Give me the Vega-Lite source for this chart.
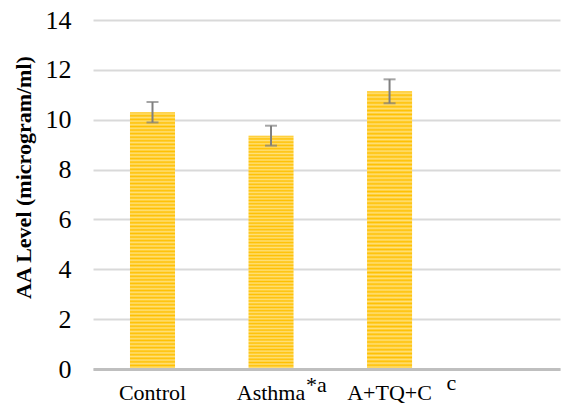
{
"$schema": "https://vega.github.io/schema/vega-lite/v6.json",
"width": 467,
"height": 349,
"autosize": {"type": "none"},
"padding": {"left": 93, "top": 20, "right": 1, "bottom": 35},
"config": {"view": {"stroke": null}, "font": "Liberation Serif",
"axisY": {"labelFont": "Liberation Serif", "labelFontSize": 26, "labelColor": "#000000"}},
"data": {"values": [
{"group": "Control", "mean": 10.3, "lo": 9.89, "hi": 10.71},
{"group": "Asthma", "mean": 9.36, "lo": 8.96, "hi": 9.76},
{"group": "A+TQ+C", "mean": 11.14, "lo": 10.66, "hi": 11.62}
]},
"encoding": {
"x": {"field": "group", "type": "nominal", "sort": null,
"scale": {"domain": ["Control", "Asthma", "A+TQ+C"], "paddingInner": 0.62, "paddingOuter": 0.78, "align": 0.2},
"axis": {"title": null, "labelAngle": 0, "ticks": false, "labelPadding": 13, "labelFont": "Liberation Serif", "labelFontSize": 22, "labelColor": "#000000", "domainColor": "#bfbfbf", "domainWidth": 3, "zindex": 1}}
},
"layer": [
{"mark": {"type": "bar", "color": {"gradient": "linear", "x1": 0, "y1": 0, "x2": 0, "y2": 1, "stops": [
{"offset":0,"color":"#FFC000"},{"offset":0.0069,"color":"#FFE07A"},{"offset":0.0139,"color":"#FFC000"},{"offset":0.0208,"color":"#FFE07A"},{"offset":0.0278,"color":"#FFC000"},{"offset":0.0347,"color":"#FFE07A"},{"offset":0.0417,"color":"#FFC000"},{"offset":0.0486,"color":"#FFE07A"},{"offset":0.0556,"color":"#FFC000"},{"offset":0.0625,"color":"#FFE07A"},{"offset":0.0694,"color":"#FFC000"},{"offset":0.0764,"color":"#FFE07A"},{"offset":0.0833,"color":"#FFC000"},{"offset":0.0903,"color":"#FFE07A"},{"offset":0.0972,"color":"#FFC000"},{"offset":0.1042,"color":"#FFE07A"},{"offset":0.1111,"color":"#FFC000"},{"offset":0.1181,"color":"#FFE07A"},{"offset":0.125,"color":"#FFC000"},{"offset":0.1319,"color":"#FFE07A"},{"offset":0.1389,"color":"#FFC000"},{"offset":0.1458,"color":"#FFE07A"},{"offset":0.1528,"color":"#FFC000"},{"offset":0.1597,"color":"#FFE07A"},{"offset":0.1667,"color":"#FFC000"},{"offset":0.1736,"color":"#FFE07A"},{"offset":0.1806,"color":"#FFC000"},{"offset":0.1875,"color":"#FFE07A"},{"offset":0.1944,"color":"#FFC000"},{"offset":0.2014,"color":"#FFE07A"},{"offset":0.2083,"color":"#FFC000"},{"offset":0.2153,"color":"#FFE07A"},{"offset":0.2222,"color":"#FFC000"},{"offset":0.2292,"color":"#FFE07A"},{"offset":0.2361,"color":"#FFC000"},{"offset":0.2431,"color":"#FFE07A"},{"offset":0.25,"color":"#FFC000"},{"offset":0.2569,"color":"#FFE07A"},{"offset":0.2639,"color":"#FFC000"},{"offset":0.2708,"color":"#FFE07A"},{"offset":0.2778,"color":"#FFC000"},{"offset":0.2847,"color":"#FFE07A"},{"offset":0.2917,"color":"#FFC000"},{"offset":0.2986,"color":"#FFE07A"},{"offset":0.3056,"color":"#FFC000"},{"offset":0.3125,"color":"#FFE07A"},{"offset":0.3194,"color":"#FFC000"},{"offset":0.3264,"color":"#FFE07A"},{"offset":0.3333,"color":"#FFC000"},{"offset":0.3403,"color":"#FFE07A"},{"offset":0.3472,"color":"#FFC000"},{"offset":0.3542,"color":"#FFE07A"},{"offset":0.3611,"color":"#FFC000"},{"offset":0.3681,"color":"#FFE07A"},{"offset":0.375,"color":"#FFC000"},{"offset":0.3819,"color":"#FFE07A"},{"offset":0.3889,"color":"#FFC000"},{"offset":0.3958,"color":"#FFE07A"},{"offset":0.4028,"color":"#FFC000"},{"offset":0.4097,"color":"#FFE07A"},{"offset":0.4167,"color":"#FFC000"},{"offset":0.4236,"color":"#FFE07A"},{"offset":0.4306,"color":"#FFC000"},{"offset":0.4375,"color":"#FFE07A"},{"offset":0.4444,"color":"#FFC000"},{"offset":0.4514,"color":"#FFE07A"},{"offset":0.4583,"color":"#FFC000"},{"offset":0.4653,"color":"#FFE07A"},{"offset":0.4722,"color":"#FFC000"},{"offset":0.4792,"color":"#FFE07A"},{"offset":0.4861,"color":"#FFC000"},{"offset":0.4931,"color":"#FFE07A"},{"offset":0.5,"color":"#FFC000"},{"offset":0.5069,"color":"#FFE07A"},{"offset":0.5139,"color":"#FFC000"},{"offset":0.5208,"color":"#FFE07A"},{"offset":0.5278,"color":"#FFC000"},{"offset":0.5347,"color":"#FFE07A"},{"offset":0.5417,"color":"#FFC000"},{"offset":0.5486,"color":"#FFE07A"},{"offset":0.5556,"color":"#FFC000"},{"offset":0.5625,"color":"#FFE07A"},{"offset":0.5694,"color":"#FFC000"},{"offset":0.5764,"color":"#FFE07A"},{"offset":0.5833,"color":"#FFC000"},{"offset":0.5903,"color":"#FFE07A"},{"offset":0.5972,"color":"#FFC000"},{"offset":0.6042,"color":"#FFE07A"},{"offset":0.6111,"color":"#FFC000"},{"offset":0.6181,"color":"#FFE07A"},{"offset":0.625,"color":"#FFC000"},{"offset":0.6319,"color":"#FFE07A"},{"offset":0.6389,"color":"#FFC000"},{"offset":0.6458,"color":"#FFE07A"},{"offset":0.6528,"color":"#FFC000"},{"offset":0.6597,"color":"#FFE07A"},{"offset":0.6667,"color":"#FFC000"},{"offset":0.6736,"color":"#FFE07A"},{"offset":0.6806,"color":"#FFC000"},{"offset":0.6875,"color":"#FFE07A"},{"offset":0.6944,"color":"#FFC000"},{"offset":0.7014,"color":"#FFE07A"},{"offset":0.7083,"color":"#FFC000"},{"offset":0.7153,"color":"#FFE07A"},{"offset":0.7222,"color":"#FFC000"},{"offset":0.7292,"color":"#FFE07A"},{"offset":0.7361,"color":"#FFC000"},{"offset":0.7431,"color":"#FFE07A"},{"offset":0.75,"color":"#FFC000"},{"offset":0.7569,"color":"#FFE07A"},{"offset":0.7639,"color":"#FFC000"},{"offset":0.7708,"color":"#FFE07A"},{"offset":0.7778,"color":"#FFC000"},{"offset":0.7847,"color":"#FFE07A"},{"offset":0.7917,"color":"#FFC000"},{"offset":0.7986,"color":"#FFE07A"},{"offset":0.8056,"color":"#FFC000"},{"offset":0.8125,"color":"#FFE07A"},{"offset":0.8194,"color":"#FFC000"},{"offset":0.8264,"color":"#FFE07A"},{"offset":0.8333,"color":"#FFC000"},{"offset":0.8403,"color":"#FFE07A"},{"offset":0.8472,"color":"#FFC000"},{"offset":0.8542,"color":"#FFE07A"},{"offset":0.8611,"color":"#FFC000"},{"offset":0.8681,"color":"#FFE07A"},{"offset":0.875,"color":"#FFC000"},{"offset":0.8819,"color":"#FFE07A"},{"offset":0.8889,"color":"#FFC000"},{"offset":0.8958,"color":"#FFE07A"},{"offset":0.9028,"color":"#FFC000"},{"offset":0.9097,"color":"#FFE07A"},{"offset":0.9167,"color":"#FFC000"},{"offset":0.9236,"color":"#FFE07A"},{"offset":0.9306,"color":"#FFC000"},{"offset":0.9375,"color":"#FFE07A"},{"offset":0.9444,"color":"#FFC000"},{"offset":0.9514,"color":"#FFE07A"},{"offset":0.9583,"color":"#FFC000"},{"offset":0.9653,"color":"#FFE07A"},{"offset":0.9722,"color":"#FFC000"},{"offset":0.9792,"color":"#FFE07A"},{"offset":0.9861,"color":"#FFC000"},{"offset":0.9931,"color":"#FFE07A"},{"offset":1,"color":"#FFC000"}
]}},
"encoding": {
"y": {"field": "mean", "type": "quantitative",
"scale": {"domain": [0, 14], "nice": false},
"axis": {"values": [0, 2, 4, 6, 8, 10, 12, 14], "domain": false, "ticks": false, "labelPadding": 22, "labelFont": "Liberation Serif", "labelFontSize": 26, "labelColor": "#000000", "gridColor": "#d9d9d9", "gridWidth": 2,
"title": "AA  Level (microgram/ml)", "titleFont": "Liberation Serif", "titleFontSize": 22, "titleFontWeight": "bold", "titleColor": "#000000", "titleX": -70, "titleY": 157, "titleBaseline": "middle", "titleAngle": -90}}
}},
{"mark": {"type": "rule", "color": "#7f7f7f", "strokeWidth": 2},
"encoding": {"y": {"field": "lo", "type": "quantitative",
"axis": {"values": [0, 2, 4, 6, 8, 10, 12, 14], "domain": false, "ticks": false, "labelPadding": 22, "labelFont": "Liberation Serif", "labelFontSize": 26, "labelColor": "#000000", "gridColor": "#d9d9d9", "gridWidth": 2,
"title": "AA  Level (microgram/ml)", "titleFont": "Liberation Serif", "titleFontSize": 22, "titleFontWeight": "bold", "titleColor": "#000000", "titleX": -70, "titleY": 157, "titleBaseline": "middle", "titleAngle": -90}}, "y2": {"field": "hi"}}},
{"mark": {"type": "tick", "color": "#7f7f7f", "thickness": 2, "size": 12, "orient": "horizontal"},
"encoding": {"y": {"field": "hi", "type": "quantitative",
"axis": {"values": [0, 2, 4, 6, 8, 10, 12, 14], "domain": false, "ticks": false, "labelPadding": 22, "labelFont": "Liberation Serif", "labelFontSize": 26, "labelColor": "#000000", "gridColor": "#d9d9d9", "gridWidth": 2,
"title": "AA  Level (microgram/ml)", "titleFont": "Liberation Serif", "titleFontSize": 22, "titleFontWeight": "bold", "titleColor": "#000000", "titleX": -70, "titleY": 157, "titleBaseline": "middle", "titleAngle": -90}}}},
{"mark": {"type": "tick", "color": "#7f7f7f", "thickness": 2, "size": 12, "orient": "horizontal"},
"encoding": {"y": {"field": "lo", "type": "quantitative",
"axis": {"values": [0, 2, 4, 6, 8, 10, 12, 14], "domain": false, "ticks": false, "labelPadding": 22, "labelFont": "Liberation Serif", "labelFontSize": 26, "labelColor": "#000000", "gridColor": "#d9d9d9", "gridWidth": 2,
"title": "AA  Level (microgram/ml)", "titleFont": "Liberation Serif", "titleFontSize": 22, "titleFontWeight": "bold", "titleColor": "#000000", "titleX": -70, "titleY": 157, "titleBaseline": "middle", "titleAngle": -90}}}},
{"data": {"values": [{"group": "Asthma", "note": "*a"}]},
"mark": {"type": "text", "align": "left", "baseline": "alphabetic", "dx": 35, "dy": 23, "font": "Liberation Serif", "fontSize": 22, "color": "#000000"},
"encoding": {"y": {"datum": 0, "type": "quantitative",
"axis": {"values": [0, 2, 4, 6, 8, 10, 12, 14], "domain": false, "ticks": false, "labelPadding": 22, "labelFont": "Liberation Serif", "labelFontSize": 26, "labelColor": "#000000", "gridColor": "#d9d9d9", "gridWidth": 2,
"title": "AA  Level (microgram/ml)", "titleFont": "Liberation Serif", "titleFontSize": 22, "titleFontWeight": "bold", "titleColor": "#000000", "titleX": -70, "titleY": 157, "titleBaseline": "middle", "titleAngle": -90}}, "text": {"field": "note"}}},
{"data": {"values": [{"group": "A+TQ+C", "note": "c"}]},
"mark": {"type": "text", "align": "left", "baseline": "alphabetic", "dx": 57, "dy": 21, "font": "Liberation Serif", "fontSize": 22, "color": "#000000"},
"encoding": {"y": {"datum": 0, "type": "quantitative",
"axis": {"values": [0, 2, 4, 6, 8, 10, 12, 14], "domain": false, "ticks": false, "labelPadding": 22, "labelFont": "Liberation Serif", "labelFontSize": 26, "labelColor": "#000000", "gridColor": "#d9d9d9", "gridWidth": 2,
"title": "AA  Level (microgram/ml)", "titleFont": "Liberation Serif", "titleFontSize": 22, "titleFontWeight": "bold", "titleColor": "#000000", "titleX": -70, "titleY": 157, "titleBaseline": "middle", "titleAngle": -90}}, "text": {"field": "note"}}}
]
}
